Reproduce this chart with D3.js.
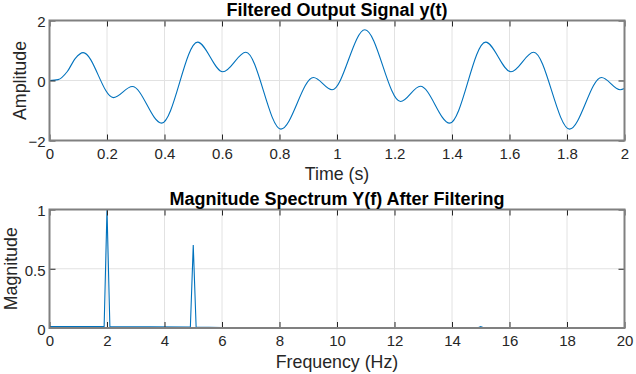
<!DOCTYPE html>
<html>
<head>
<meta charset="utf-8">
<script src="https://cdn.jsdelivr.net/npm/d3@7"></script>
<style>
  body { margin: 0; background: #fff; }
  text { font-family: "Liberation Sans", Arial, Helvetica, sans-serif; }
</style>
</head>
<body>
<svg id="fig" width="636" height="374"></svg>
<script>
// filtered output y(t): turning points
const timeS = [0, 0.03, 0.062, 0.09, 0.117, 0.222, 0.288, 0.39, 0.515, 0.603, 0.683, 0.805, 0.918, 0.983,
  1.097, 1.221, 1.29, 1.392, 1.517, 1.605, 1.684, 1.809, 1.92, 1.985, 2.0];
const amplitude = [0, 0.03, 0.3, 0.74, 0.93, -0.57, -0.2, -1.42, 1.28, 0.29, 0.94, -1.62, 0.1, -0.31,
  1.69, -0.7, -0.19, -1.42, 1.28, 0.29, 0.94, -1.62, 0.1, -0.31, -0.27];

// magnitude spectrum after filtering
const freqHz = [0, 1.9, 2.0, 2.1, 4.9, 5.0, 5.1, 6, 8, 14.9, 15.0, 15.1, 20];
const magnitude = [0.012, 0.012, 1.0, 0.012, 0.009, 0.70, 0.008, 0.004, 0.002, 0.002, 0.012, 0.002, 0.001];

const timeTicks = [0, 0.2, 0.4, 0.6, 0.8, 1, 1.2, 1.4, 1.6, 1.8, 2];
const ampTicks = [-2, 0, 2];
const freqTicks = [0, 2, 4, 6, 8, 10, 12, 14, 16, 18, 20];
const magTicks = [0, 0.5, 1];

const svg = d3.select("#fig");
svg.append("rect").attr("width", 636).attr("height", 374).attr("fill", "#fff");

function panel(o) {
  const x = d3.scaleLinear().domain(o.xDomain).range([49.5, 624.5]);
  const y = d3.scaleLinear().domain(o.yDomain).range([o.bottom, o.top]);
  const g = svg.append("g");

  // grid
  g.append("g").selectAll("line").data(o.xTicks.slice(1, -1)).join("line")
    .attr("x1", d => x(d)).attr("x2", d => x(d))
    .attr("y1", o.top).attr("y2", o.bottom)
    .attr("stroke", "#e2e2e2").attr("stroke-width", 1);
  g.append("g").selectAll("line").data(o.yTicks.slice(1, -1)).join("line")
    .attr("x1", 49.5).attr("x2", 624.5)
    .attr("y1", d => y(d)).attr("y2", d => y(d))
    .attr("stroke", "#e2e2e2").attr("stroke-width", 1);

  // data
  const line = d3.line().x((d, i) => x(o.xs[i])).y(d => y(d)).curve(o.curve);
  g.append("path").datum(o.ys)
    .attr("d", line)
    .attr("fill", "none")
    .attr("stroke", "#0072BD")
    .attr("stroke-width", 1.1);

  // axes
  const styleAxis = sel => {
    sel.select(".domain").remove();
    sel.selectAll(".tick line").attr("stroke", "#262626");
    sel.selectAll("text").attr("fill", "#262626").style("font-size", "15px");
  };
  g.append("g").attr("transform", `translate(0,${o.bottom})`)
    .call(d3.axisBottom(x).tickValues(o.xTicks).tickSize(-6).tickPadding(7.5).tickFormat(d3.format("~g")))
    .call(styleAxis);
  g.append("g").attr("transform", `translate(0,${o.top})`)
    .call(d3.axisTop(x).tickValues(o.xTicks).tickSize(-6).tickFormat(""))
    .call(styleAxis);
  g.append("g").attr("transform", "translate(49.5,0)")
    .call(d3.axisLeft(y).tickValues(o.yTicks).tickSize(-6).tickPadding(4).tickFormat(d3.format("~g")))
    .call(styleAxis)
    .selectAll("text").attr("dy", "0.42em");
  g.append("g").attr("transform", "translate(624.5,0)")
    .call(d3.axisRight(y).tickValues(o.yTicks).tickSize(-6).tickFormat(""))
    .call(styleAxis);

  // box
  g.append("rect")
    .attr("x", 49.5).attr("y", o.top)
    .attr("width", 575).attr("height", o.bottom - o.top)
    .attr("fill", "none").attr("stroke", "#808080").attr("stroke-width", 2);

  // labels
  g.append("text").attr("x", 337).attr("y", o.top - 5)
    .attr("text-anchor", "middle").attr("fill", "#000")
    .style("font-size", "18px").style("font-weight", "bold")
    .text(o.title);
  g.append("text").attr("x", 337).attr("y", o.bottom + 39.5)
    .attr("text-anchor", "middle").attr("fill", "#262626")
    .style("font-size", "17.8px")
    .text(o.xLabel);
  g.append("text")
    .attr("transform", `translate(${o.yLabelX},${(o.top + o.bottom) / 2}) rotate(-90)`)
    .attr("text-anchor", "middle").attr("fill", "#262626")
    .style("font-size", "17.8px")
    .text(o.yLabel);
}

panel({
  top: 20.5, bottom: 140.5,
  xDomain: [0, 2], yDomain: [-2, 2],
  xTicks: timeTicks, yTicks: ampTicks,
  xs: timeS, ys: amplitude, curve: d3.curveMonotoneX,
  title: "Filtered Output Signal y(t)", xLabel: "Time (s)", yLabel: "Amplitude", yLabelX: 26
});

panel({
  top: 209.5, bottom: 328,
  xDomain: [0, 20], yDomain: [0, 1],
  xTicks: freqTicks, yTicks: magTicks,
  xs: freqHz, ys: magnitude, curve: d3.curveLinear,
  title: "Magnitude Spectrum Y(f) After Filtering", xLabel: "Frequency (Hz)", yLabel: "Magnitude", yLabelX: 16.5
});
</script>
</body>
</html>
